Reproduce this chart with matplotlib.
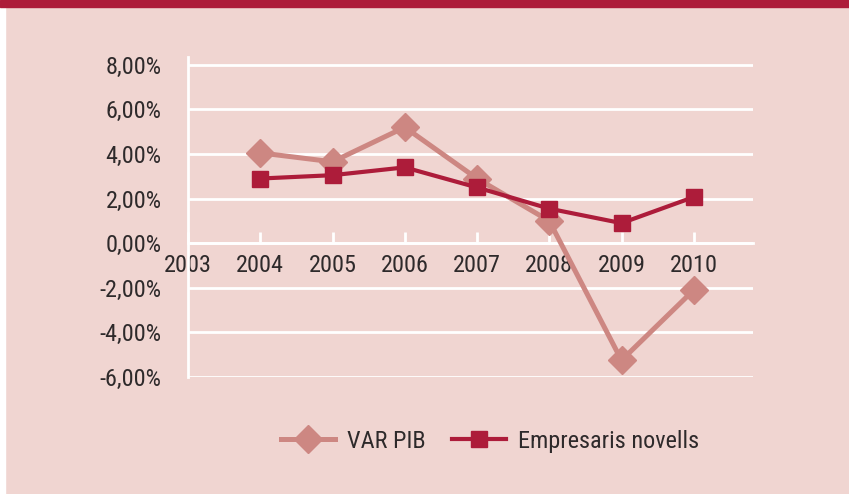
import matplotlib
matplotlib.use('agg')
import matplotlib.pyplot as plt
from matplotlib.patches import Rectangle

years = [2004, 2005, 2006, 2007, 2008, 2009, 2010]
var_pib = [4.05, 3.65, 5.2, 2.9, 1.0, -5.25, -2.1]
empresaris = [2.9, 3.05, 3.4, 2.5, 1.55, 0.9, 2.07]
year_ticks = [2003, 2004, 2005, 2006, 2007, 2008, 2009, 2010]
pct_ticks = [-6, -4, -2, 0, 2, 4, 6, 8]

BG = '#f0d5d1'
RED = '#ad1c3a'
PINK = '#cd8782'
TEXT = '#2e2a2b'

plt.rcParams['font.family'] = ['Roboto Condensed', 'Liberation Sans Narrow',
                               'Roboto', 'DejaVu Sans']

fig = plt.figure(figsize=(8.49, 4.94), dpi=100, facecolor=BG)
# white strip on the left and red band on top
fig.patches.append(Rectangle((0, 0), 5 / 849, 1, transform=fig.transFigure,
                             color='white', zorder=0))
fig.patches.append(Rectangle((0, 1 - 7 / 494), 1, 7 / 494,
                             transform=fig.transFigure, color=RED, zorder=1))

ax = fig.add_axes([188 / 849, 1 - 377 / 494, 565 / 849, 320 / 494])
ax.set_facecolor(BG)

ax.plot(years, var_pib, color=PINK, lw=3.6, marker='D', ms=14,
        label='VAR PIB', zorder=3)
ax.plot(years, empresaris, color=RED, lw=3.0, marker='s', ms=11.5,
        label='Empresaris novells', zorder=4)

ax.set_xlim(2003, 2010.82)
ax.set_ylim(-6, 8.35)

for y in pct_ticks:
    ax.axhline(y, color='white', lw=2, zorder=1)

for side in ['top', 'right']:
    ax.spines[side].set_visible(False)
ax.spines['bottom'].set_position(('data', 0))
ax.spines['bottom'].set_color('white')
ax.spines['bottom'].set_linewidth(2)
ax.spines['left'].set_color('white')
ax.spines['left'].set_linewidth(2)

ax.set_xticks(year_ticks)
ax.set_xticklabels([str(y) for y in year_ticks])
ax.set_yticks(pct_ticks)
ax.set_yticklabels([f'{v:.2f}%'.replace('.', ',') for v in pct_ticks])
ax.tick_params(axis='x', direction='in', length=8, width=2, color='white',
               pad=8, labelsize=17.5, labelcolor=TEXT)
ax.tick_params(axis='y', length=0, pad=19, labelsize=17.5, labelcolor=TEXT)

ax.legend(loc='center', bbox_to_anchor=(0.535, -0.2), ncol=2, frameon=False,
          fontsize=17.5, labelcolor=TEXT, handlelength=2.2, columnspacing=1.1,
          handletextpad=0.5)

fig.savefig('out.png', dpi=100, facecolor=BG)
